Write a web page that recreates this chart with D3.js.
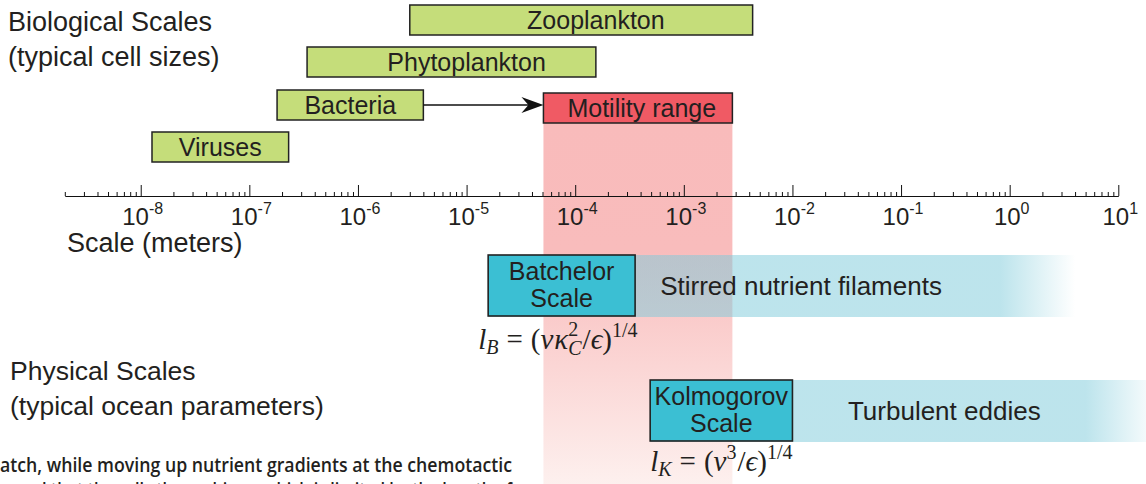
<!DOCTYPE html>
<html>
<head>
<meta charset="utf-8">
<script src="https://cdn.jsdelivr.net/npm/d3@7"></script>
<style>
  body { margin: 0; background: #fff; }
  text { font-family: "Liberation Sans", Arial, sans-serif; fill: #231f20; }
</style>
</head>
<body>
<div id="chart"></div>
<script>
// Biological scales (meters)
const bioNames = ["Zooplankton", "Phytoplankton", "Bacteria", "Viruses"];
const bioMin = [3e-6, 3.4e-7, 1.8e-7, 1.27e-8];
const bioMax = [4.3e-3, 1.55e-4, 4e-6, 2.3e-7];
const bioLabelAt = [1.55e-4, 1e-5, 8.5e-7, 5.4e-8];

// Motility range of bacteria
const motilityRange = [5.1e-5, 2.8e-3];
const motilityLabelAt = 4.1e-4;

// Physical scales: box extent, band fade start, band end
const physNames = ["Batchelor\nScale", "Kolmogorov\nScale"];
const physBands = ["Stirred nutrient filaments", "Turbulent eddies"];
const physMin = [1.58e-5, 4.9e-4];
const physMax = [3.56e-4, 1e-2];
const physFade = [0.82, 5];
const physEnd = [4, 24];
const physBandLabelAt = [0.012, 0.25];

// Axis ticks
const majorTicks = [1e-8, 1e-7, 1e-6, 1e-5, 1e-4, 1e-3, 1e-2, 1e-1, 1e0, 1e1];
const majorExp = ["-8", "-7", "-6", "-5", "-4", "-3", "-2", "-1", "0", "1"];

function init() {
    const width = 1146, height = 484;
    const axisY = 196;

    const svg = d3.select("#chart")
        .append("svg")
        .attr("width", width)
        .attr("height", height);

    const x = d3.scaleLog()
        .domain([2e-9, 10])
        .range([64.8, 1118.3]);

    const defs = svg.append("defs");

    // Pink motility band fades toward the bottom
    const pink = defs.append("linearGradient")
        .attr("id", "pinkGrad")
        .attr("gradientUnits", "userSpaceOnUse")
        .attr("x1", 0).attr("x2", 0).attr("y1", 123).attr("y2", height);
    pink.append("stop").attr("offset", 0).attr("stop-color", "#f9bbbb");
    pink.append("stop").attr("offset", 0.35).attr("stop-color", "#f9bcbc");
    pink.append("stop").attr("offset", 1).attr("stop-color", "#fdf0ee");

    svg.append("rect")
        .attr("x", x(motilityRange[0]))
        .attr("y", 123)
        .attr("width", x(motilityRange[1]) - x(motilityRange[0]))
        .attr("height", height - 123)
        .attr("fill", "url(#pinkGrad)");

    // Physical bands (translucent blue, fading right)
    const physTop = [255, 380];
    const physH = 62;
    physBands.forEach((name, i) => {
        const g = defs.append("linearGradient")
            .attr("id", "blueGrad" + i)
            .attr("gradientUnits", "userSpaceOnUse")
            .attr("x1", x(physFade[i])).attr("x2", x(physEnd[i]))
            .attr("y1", 0).attr("y2", 0);
        g.append("stop").attr("offset", 0).attr("stop-color", "#7dcada").attr("stop-opacity", 0.51);
        g.append("stop").attr("offset", 1).attr("stop-color", "#7dcada").attr("stop-opacity", 0);

        svg.append("rect")
            .attr("x", x(physMin[i]))
            .attr("y", physTop[i])
            .attr("width", x(physEnd[i]) - x(physMin[i]))
            .attr("height", physH)
            .attr("fill", "url(#blueGrad" + i + ")");

        svg.append("text")
            .attr("x", x(physBandLabelAt[i]))
            .attr("y", physTop[i] + physH / 2 + 9)
            .attr("text-anchor", "middle")
            .attr("font-size", 26)
            .text(name);
    });

    // Physical scale boxes
    physNames.forEach((name, i) => {
        svg.append("rect")
            .attr("x", x(physMin[i]))
            .attr("y", physTop[i])
            .attr("width", x(physMax[i]) - x(physMin[i]))
            .attr("height", physH - 1)
            .attr("fill", "#3bbfd3")
            .attr("stroke", "#222")
            .attr("stroke-width", 1.6);

        const cx = (x(physMin[i]) + x(physMax[i])) / 2;
        name.split("\n").forEach((line, j) => {
            svg.append("text")
                .attr("x", cx)
                .attr("y", physTop[i] + 25 + j * 27)
                .attr("text-anchor", "middle")
                .attr("font-size", 25)
                .text(line);
        });
    });

    // Biological boxes
    const rowTop = [5, 47, 90, 132];
    const rowH = 30;
    bioNames.forEach((name, i) => {
        svg.append("rect")
            .attr("x", x(bioMin[i]))
            .attr("y", rowTop[i])
            .attr("width", x(bioMax[i]) - x(bioMin[i]))
            .attr("height", rowH)
            .attr("fill", "#c5dd7a")
            .attr("stroke", "#222")
            .attr("stroke-width", 1.5);
        svg.append("text")
            .attr("x", x(bioLabelAt[i]))
            .attr("y", rowTop[i] + rowH / 2 + 9)
            .attr("text-anchor", "middle")
            .attr("font-size", 25)
            .text(name);
    });

    // Motility range box
    const motTop = 93;
    svg.append("rect")
        .attr("x", x(motilityRange[0]))
        .attr("y", motTop)
        .attr("width", x(motilityRange[1]) - x(motilityRange[0]))
        .attr("height", rowH)
        .attr("fill", "#f05a64")
        .attr("stroke", "#222")
        .attr("stroke-width", 1.5);
    svg.append("text")
        .attr("x", x(motilityLabelAt))
        .attr("y", motTop + rowH / 2 + 9)
        .attr("text-anchor", "middle")
        .attr("font-size", 25)
        .text("Motility range");

    // Arrow from bacteria to motility range
    const ay = 105;
    const ax0 = x(bioMax[2]), ax1 = x(motilityRange[0]);
    svg.append("line")
        .attr("x1", ax0).attr("x2", ax1 - 12)
        .attr("y1", ay).attr("y2", ay)
        .attr("stroke", "#111").attr("stroke-width", 1.4);
    svg.append("path")
        .attr("d", `M${ax1},${ay} L${ax1 - 22},${ay - 8} L${ax1 - 15},${ay} L${ax1 - 22},${ay + 8} Z`)
        .attr("fill", "#111");

    // Axis: minor and major ticks pointing up
    const minorTicks = [];
    for (let d = -9; d <= 0; d++) {
        for (let k = 2; k <= 9; k++) {
            const v = k * Math.pow(10, d);
            if (v >= 2e-9 * 0.999 && v <= 10) minorTicks.push(v);
        }
    }
    svg.append("g")
        .attr("transform", `translate(0,${axisY})`)
        .call(d3.axisTop(x).tickValues(minorTicks).tickSize(4).tickSizeOuter(0).tickFormat(""))
        .call(g => g.select(".domain").attr("stroke", "#111"));
    svg.append("g")
        .attr("transform", `translate(0,${axisY})`)
        .call(d3.axisTop(x).tickValues(majorTicks).tickSize(11).tickSizeOuter(0).tickFormat(""))
        .call(g => g.select(".domain").remove());
    svg.selectAll(".tick line").attr("stroke", "#111");

    const labels = svg.append("g");
    majorTicks.forEach((v, i) => {
        const t = labels.append("text")
            .attr("x", x(v) + 2)
            .attr("y", axisY + 29)
            .attr("text-anchor", "middle")
            .attr("font-size", 24);
        t.append("tspan").text("10");
        t.append("tspan").attr("dy", -11).attr("font-size", 16).text(majorExp[i]);
    });

    svg.append("text")
        .attr("x", 67).attr("y", 252)
        .attr("font-size", 27)
        .text("Scale (meters)");

    // Section titles
    svg.append("text").attr("x", 8).attr("y", 31).attr("font-size", 27).text("Biological Scales");
    svg.append("text").attr("x", 8).attr("y", 66).attr("font-size", 27).text("(typical cell sizes)");
    svg.append("text").attr("x", 10).attr("y", 380).attr("font-size", 26.5).text("Physical Scales");
    svg.append("text").attr("x", 10).attr("y", 415).attr("font-size", 26.5).text("(typical ocean parameters)");

    // Equations
    const serif = "'Liberation Serif', 'DejaVu Serif', serif";
    const eqB = svg.append("text")
        .attr("x", x(physMin[0]) - 10).attr("y", 349)
        .attr("font-size", 29)
        .style("font-family", serif);
    eqB.append("tspan").attr("font-style", "italic").text("l");
    eqB.append("tspan").attr("font-style", "italic").attr("font-size", 20).attr("dy", 5).text("B");
    eqB.append("tspan").attr("dy", -5).attr("dx", 8).text("=");
    eqB.append("tspan").attr("dx", 8).text("(");
    eqB.append("tspan").attr("font-style", "italic").text("ν");
    eqB.append("tspan").attr("font-style", "italic").attr("dx", 1).text("κ");
    eqB.append("tspan").attr("font-size", 20).attr("dy", -13).text("2");
    eqB.append("tspan").attr("font-style", "italic").attr("font-size", 20).attr("dx", -10).attr("dy", 19).text("C");
    eqB.append("tspan").attr("dy", -6).attr("dx", 1).text("/");
    eqB.append("tspan").attr("font-style", "italic").text("ϵ");
    eqB.append("tspan").text(")");
    eqB.append("tspan").attr("font-size", 20).attr("dy", -12).text("1/4");

    const eqK = svg.append("text")
        .attr("x", x(physMin[1])).attr("y", 471)
        .attr("font-size", 29)
        .style("font-family", serif);
    eqK.append("tspan").attr("font-style", "italic").text("l");
    eqK.append("tspan").attr("font-style", "italic").attr("font-size", 20).attr("dy", 5).text("K");
    eqK.append("tspan").attr("dy", -5).attr("dx", 8).text("=");
    eqK.append("tspan").attr("dx", 8).text("(");
    eqK.append("tspan").attr("font-style", "italic").text("ν");
    eqK.append("tspan").attr("font-size", 20).attr("dy", -12).text("3");
    eqK.append("tspan").attr("dy", 12).attr("dx", 1).text("/");
    eqK.append("tspan").attr("font-style", "italic").text("ϵ");
    eqK.append("tspan").text(")");
    eqK.append("tspan").attr("font-size", 20).attr("dy", -12).text("1/4");

    // Clipped caption text from the page
    svg.append("text")
        .attr("x", 0).attr("y", 472)
        .attr("font-size", 20)
        .attr("font-weight", 600)
        .attr("textLength", 512)
        .attr("lengthAdjust", "spacingAndGlyphs")
        .style("font-family", "'Open Sans', sans-serif")
        .text("atch, while moving up nutrient gradients at the chemotactic");
    svg.append("text")
        .attr("x", 0).attr("y", 497)
        .attr("font-size", 20)
        .attr("font-weight", 600)
        .attr("textLength", 512)
        .attr("lengthAdjust", "spacingAndGlyphs")
        .style("font-family", "'Open Sans', sans-serif")
        .text("speed that the cells thus achieve, which is limited by the length of");
}

init();
</script>
</body>
</html>
